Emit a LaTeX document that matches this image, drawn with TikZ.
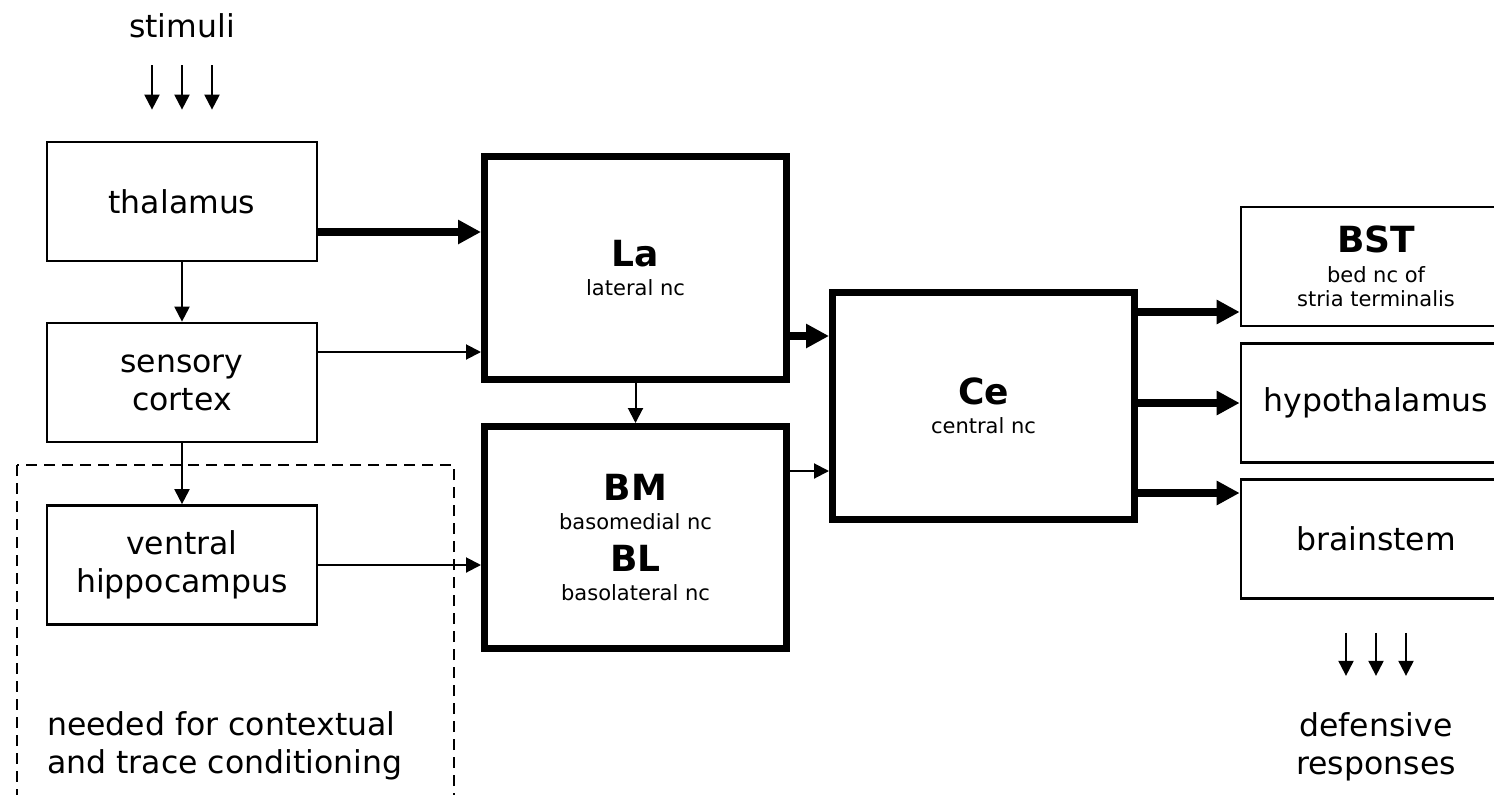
\documentclass[tikz,border=0pt]{standalone}
\usepackage{fontspec}
\setmainfont{DejaVu Sans}
\usetikzlibrary{arrows.meta}
\newcommand{\nucname}{\fontsize{36}{40}\selectfont\bfseries}
\newcommand{\nucsub}{\fontsize{21}{24}\selectfont}

\begin{document}
\begin{tikzpicture}[x=1pt,y=-1pt]
\tikzstyle{every node}+=[inner sep=0pt,font=\fontsize{31.5}{38}\selectfont]
\tikzstyle{region}=[draw,line width=2.7pt,minimum width=270pt,minimum height=119pt,align=center]
\tikzstyle{nucleus}=[draw,line width=7pt,minimum width=302pt,minimum height=223pt,align=center,font=\nucsub]
\tikzstyle{slim}=[line width=2pt,-{Triangle[length=15pt,width=15pt]}]
\tikzstyle{fat}=[line width=8pt,-{Triangle[length=23pt,width=23pt]}]
\tikzstyle{context}=[line width=2pt,dash pattern=on 11pt off 7pt]
\useasboundingbox (0,0) rectangle (1494,795);
\clip (0,0) rectangle (1494,795);
% inputs
\node[anchor=base] (stim) at (182,37) {stimuli};
\node[region] (thalamus) at (182,201.5) {thalamus};
\node[region] (sensory) at (182,382.5) {sensory\\cortex};
\node[region] (hippo) at (182,565) {ventral\\hippocampus};
\draw[context] (17,465) rectangle (454,830);
\node[align=left,anchor=base west] (note) at (47,773) {needed for contextual\\and trace conditioning};
% amygdala
\node[nucleus] (La) at (635.5,268) {{\nucname La}\\[5pt]lateral nc};
\node[nucleus,minimum height=222pt] (BMBL) at (635.5,537.5) {{\nucname BM}\\[5pt]basomedial nc\\[15pt]{\nucname BL}\\[5pt]basolateral nc};
\node[nucleus,minimum height=227pt] (Ce) at (983.5,406) {{\nucname Ce}\\[5pt]central nc};
% outputs
\node[region,font=\nucsub] (BST) at (1376,266.5) {{\nucname BST}\\[6pt]bed nc of\\stria terminalis};
\node[region] (hypo) at (1376,403) {hypothalamus};
\node[region] (brainstem) at (1376,539) {brainstem};
\node[align=center,anchor=base] (resp) at (1376,774) {defensive\\responses};
% connections
\foreach \dx in {-30,0,30}
  \draw[slim] ([xshift=\dx pt,yshift=-28pt]stim.base) -- ([xshift=\dx pt,yshift=31pt]thalamus.north);
\draw[slim] (thalamus) -- (sensory);
\draw[slim] (sensory) -- (hippo);
\draw[fat] ([yshift=-30.5pt]thalamus.east) coordinate (t) -- (La.west |- t);
\draw[slim] ([yshift=30.5pt]sensory.east) coordinate (s) -- (La.west |- s);
\draw[slim] (hippo.east) -- (BMBL.west |- hippo.east);
\draw[slim] (La) -- (BMBL);
\draw[fat] ([yshift=-68pt]La.east) coordinate (l) -- (Ce.west |- l);
\draw[slim] ([yshift=66.5pt]BMBL.east) coordinate (b) -- (Ce.west |- b);
\draw[fat] ([yshift=94pt]Ce.east) coordinate (c1) -- (BST.west |- c1);
\draw[fat] (Ce.east |- hypo.west) -- (hypo.west);
\draw[fat] ([yshift=-87pt]Ce.east) coordinate (c3) -- (brainstem.west |- c3);
\foreach \dx in {-30,0,30}
  \draw[slim] ([xshift=\dx pt,yshift=-33pt]brainstem.south) -- ([xshift=\dx pt,yshift=36pt]resp.north);
\end{tikzpicture}
\end{document}
